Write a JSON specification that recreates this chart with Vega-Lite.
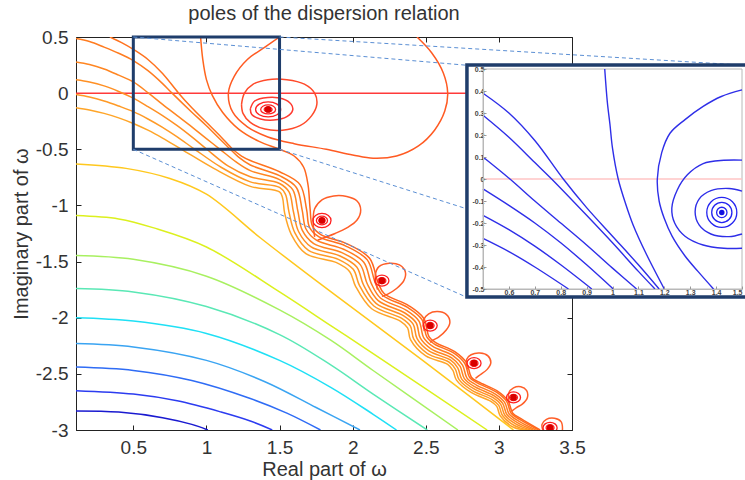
{
"$schema": "https://vega.github.io/schema/vega-lite/v6.json",
"width": 496, "height": 393,
"autosize": {"type": "none"},
"padding": {"left": 76, "top": 37, "right": 173, "bottom": 50},
"background": "white",
"config": {"view": {"stroke": "#222", "strokeWidth": 1}, "font": "Liberation Sans"},
"title": {"text": "poles of the dispersion relation", "fontSize": 20, "fontWeight": "normal", "color": "#333", "offset": 4, "anchor": "middle"},
"datasets": {
"main": [
{"g":"Z","x":0.108,"y":0},{"g":"Z","x":3.5,"y":0},
{"g":"b1","x":0.108,"y":-2.83},{"g":"b1","x":0.4,"y":-2.84},{"g":"b1","x":0.7,"y":-2.89},{"g":"b1","x":0.9,"y":-2.95},{"g":"b1","x":1.01,"y":-3.0},
{"g":"b2","x":0.108,"y":-2.65},{"g":"b2","x":0.5,"y":-2.68},{"g":"b2","x":0.8,"y":-2.74},{"g":"b2","x":1.1,"y":-2.84},{"g":"b2","x":1.3,"y":-2.92},{"g":"b2","x":1.45,"y":-3.0},
{"g":"b3","x":0.108,"y":-2.44},{"g":"b3","x":0.5,"y":-2.47},{"g":"b3","x":0.9,"y":-2.56},{"g":"b3","x":1.3,"y":-2.72},{"g":"b3","x":1.55,"y":-2.85},{"g":"b3","x":1.78,"y":-3.0},
{"g":"b4","x":0.108,"y":-2.23},{"g":"b4","x":0.5,"y":-2.26},{"g":"b4","x":1.0,"y":-2.38},{"g":"b4","x":1.4,"y":-2.57},{"g":"b4","x":1.75,"y":-2.8},{"g":"b4","x":2.05,"y":-3.0},
{"g":"c5","x":0.108,"y":-2.0},{"g":"c5","x":0.5,"y":-2.03},{"g":"c5","x":1.0,"y":-2.14},{"g":"c5","x":1.5,"y":-2.38},{"g":"c5","x":1.85,"y":-2.62},{"g":"c5","x":2.14,"y":-2.86},{"g":"c5","x":2.3,"y":-3.0},
{"g":"g6","x":0.108,"y":-1.74},{"g":"g6","x":0.5,"y":-1.77},{"g":"g6","x":1.0,"y":-1.9},{"g":"g6","x":1.5,"y":-2.15},{"g":"g6","x":1.85,"y":-2.42},{"g":"g6","x":2.14,"y":-2.68},{"g":"g6","x":2.51,"y":-3.0},
{"g":"g7","x":0.108,"y":-1.446},{"g":"g7","x":0.5,"y":-1.48},{"g":"g7","x":1.0,"y":-1.63},{"g":"g7","x":1.5,"y":-1.93},{"g":"g7","x":1.85,"y":-2.2},{"g":"g7","x":2.14,"y":-2.47},{"g":"g7","x":2.72,"y":-3.0},
{"g":"y8","x":0.108,"y":-1.09},{"g":"y8","x":0.4,"y":-1.12},{"g":"y8","x":0.64,"y":-1.2},{"g":"y8","x":1.0,"y":-1.37},{"g":"y8","x":1.5,"y":-1.77},{"g":"y8","x":1.85,"y":-2.07},{"g":"y8","x":2.14,"y":-2.32},{"g":"y8","x":2.92,"y":-3.0},
{"g":"y9","x":0.108,"y":-0.63},{"g":"y9","x":0.45,"y":-0.67},{"g":"y9","x":0.75,"y":-0.76},{"g":"y9","x":1.0,"y":-0.9},{"g":"y9","x":1.37,"y":-1.29},{"g":"y9","x":1.75,"y":-1.67},{"g":"y9","x":2.12,"y":-2.03},{"g":"y9","x":2.6,"y":-2.5},{"g":"y9","x":3.1,"y":-3.0},
{"g":"M1","x":0.34,"y":0.5},{"g":"M1","x":0.42,"y":0.45},{"g":"M1","x":0.5,"y":0.39},{"g":"M1","x":0.6,"y":0.3},{"g":"M1","x":0.7,"y":0.175},{"g":"M1","x":0.81,"y":0.0},{"g":"M1","x":0.9,"y":-0.13},{"g":"M1","x":1.0,"y":-0.26},{"g":"M1","x":1.1,"y":-0.39},{"g":"M1","x":1.18,"y":-0.5},{"g":"M1","x":1.24,"y":-0.56},{"g":"M1","x":1.3,"y":-0.6},{"g":"M1","x":1.5,"y":-0.7},{"g":"M1","x":1.64,"y":-0.815},{"g":"M1","x":1.685,"y":-1.0375},{"g":"M1","x":1.705,"y":-1.195},{"g":"M1","x":1.77,"y":-1.28},{"g":"M1","x":1.95,"y":-1.36},{"g":"M1","x":2.1,"y":-1.485},{"g":"M1","x":2.155,"y":-1.69},{"g":"M1","x":2.205,"y":-1.8},{"g":"M1","x":2.378,"y":-1.91},{"g":"M1","x":2.473,"y":-2.015},{"g":"M1","x":2.508,"y":-2.173},{"g":"M1","x":2.56,"y":-2.235},{"g":"M1","x":2.695,"y":-2.318},{"g":"M1","x":2.768,"y":-2.41},{"g":"M1","x":2.8,"y":-2.533},{"g":"M1","x":2.855,"y":-2.583},{"g":"M1","x":2.983,"y":-2.663},{"g":"M1","x":3.053,"y":-2.745},{"g":"M1","x":3.085,"y":-2.853},{"g":"M1","x":3.145,"y":-2.908},{"g":"M1","x":3.27,"y":-3.0},
{"g":"M2","x":0.108,"y":0.486},{"g":"M2","x":0.2,"y":0.46},{"g":"M2","x":0.3,"y":0.41},{"g":"M2","x":0.4,"y":0.355},{"g":"M2","x":0.5,"y":0.29},{"g":"M2","x":0.6,"y":0.2},{"g":"M2","x":0.7,"y":0.085},{"g":"M2","x":0.765,"y":0.0},{"g":"M2","x":0.9,"y":-0.17},{"g":"M2","x":1.0,"y":-0.29},{"g":"M2","x":1.1,"y":-0.42},{"g":"M2","x":1.164,"y":-0.5},{"g":"M2","x":1.22,"y":-0.57},{"g":"M2","x":1.3,"y":-0.64},{"g":"M2","x":1.5,"y":-0.735},{"g":"M2","x":1.615,"y":-0.84},{"g":"M2","x":1.655,"y":-1.044},{"g":"M2","x":1.68,"y":-1.2075},{"g":"M2","x":1.752,"y":-1.31},{"g":"M2","x":1.938,"y":-1.39},{"g":"M2","x":2.076,"y":-1.506},{"g":"M2","x":2.128,"y":-1.696},{"g":"M2","x":2.19,"y":-1.824},{"g":"M2","x":2.3675,"y":-1.934},{"g":"M2","x":2.4535,"y":-2.03},{"g":"M2","x":2.4855,"y":-2.1775},{"g":"M2","x":2.548,"y":-2.256},{"g":"M2","x":2.686,"y":-2.3375},{"g":"M2","x":2.7515,"y":-2.422},{"g":"M2","x":2.782,"y":-2.5375},{"g":"M2","x":2.846,"y":-2.5995},{"g":"M2","x":2.9755,"y":-2.6795},{"g":"M2","x":3.0395,"y":-2.754},{"g":"M2","x":3.07,"y":-2.8575},{"g":"M2","x":3.136,"y":-2.9215},{"g":"M2","x":3.252,"y":-3.0},
{"g":"M3","x":0.108,"y":0.277},{"g":"M3","x":0.2,"y":0.255},{"g":"M3","x":0.3,"y":0.215},{"g":"M3","x":0.4,"y":0.16},{"g":"M3","x":0.5,"y":0.1},{"g":"M3","x":0.604,"y":0.0},{"g":"M3","x":0.7,"y":-0.1},{"g":"M3","x":0.8,"y":-0.2},{"g":"M3","x":0.9,"y":-0.3},{"g":"M3","x":1.0,"y":-0.405},{"g":"M3","x":1.093,"y":-0.5},{"g":"M3","x":1.2,"y":-0.61},{"g":"M3","x":1.3,"y":-0.69},{"g":"M3","x":1.5,"y":-0.77},{"g":"M3","x":1.59,"y":-0.86},{"g":"M3","x":1.625,"y":-1.05},{"g":"M3","x":1.655,"y":-1.22},{"g":"M3","x":1.734,"y":-1.34},{"g":"M3","x":1.926,"y":-1.42},{"g":"M3","x":2.052,"y":-1.527},{"g":"M3","x":2.101,"y":-1.702},{"g":"M3","x":2.175,"y":-1.848},{"g":"M3","x":2.357,"y":-1.958},{"g":"M3","x":2.434,"y":-2.045},{"g":"M3","x":2.463,"y":-2.182},{"g":"M3","x":2.536,"y":-2.277},{"g":"M3","x":2.677,"y":-2.357},{"g":"M3","x":2.735,"y":-2.434},{"g":"M3","x":2.764,"y":-2.542},{"g":"M3","x":2.837,"y":-2.616},{"g":"M3","x":2.968,"y":-2.696},{"g":"M3","x":3.026,"y":-2.763},{"g":"M3","x":3.055,"y":-2.862},{"g":"M3","x":3.127,"y":-2.935},{"g":"M3","x":3.234,"y":-3.0},
{"g":"M4","x":0.108,"y":0.12},{"g":"M4","x":0.2,"y":0.1},{"g":"M4","x":0.3,"y":0.065},{"g":"M4","x":0.4,"y":0.015},{"g":"M4","x":0.5,"y":-0.045},{"g":"M4","x":0.6,"y":-0.12},{"g":"M4","x":0.7,"y":-0.2},{"g":"M4","x":0.8,"y":-0.29},{"g":"M4","x":0.9,"y":-0.39},{"g":"M4","x":1.003,"y":-0.5},{"g":"M4","x":1.15,"y":-0.65},{"g":"M4","x":1.3,"y":-0.745},{"g":"M4","x":1.5,"y":-0.805},{"g":"M4","x":1.565,"y":-0.88},{"g":"M4","x":1.595,"y":-1.056},{"g":"M4","x":1.63,"y":-1.2325},{"g":"M4","x":1.716,"y":-1.37},{"g":"M4","x":1.914,"y":-1.45},{"g":"M4","x":2.028,"y":-1.548},{"g":"M4","x":2.074,"y":-1.708},{"g":"M4","x":2.16,"y":-1.872},{"g":"M4","x":2.3465,"y":-1.982},{"g":"M4","x":2.4145,"y":-2.06},{"g":"M4","x":2.4405,"y":-2.1865},{"g":"M4","x":2.524,"y":-2.298},{"g":"M4","x":2.668,"y":-2.3765},{"g":"M4","x":2.7185,"y":-2.446},{"g":"M4","x":2.746,"y":-2.5465},{"g":"M4","x":2.828,"y":-2.6325},{"g":"M4","x":2.9605,"y":-2.7125},{"g":"M4","x":3.0125,"y":-2.772},{"g":"M4","x":3.04,"y":-2.8665},{"g":"M4","x":3.118,"y":-2.9485},{"g":"M4","x":3.216,"y":-3.0},
{"g":"M5","x":0.108,"y":-0.013},{"g":"M5","x":0.2,"y":-0.035},{"g":"M5","x":0.3,"y":-0.07},{"g":"M5","x":0.4,"y":-0.115},{"g":"M5","x":0.5,"y":-0.165},{"g":"M5","x":0.6,"y":-0.23},{"g":"M5","x":0.7,"y":-0.305},{"g":"M5","x":0.8,"y":-0.39},{"g":"M5","x":0.92,"y":-0.5},{"g":"M5","x":1.1,"y":-0.66},{"g":"M5","x":1.3,"y":-0.79},{"g":"M5","x":1.5,"y":-0.84},{"g":"M5","x":1.54,"y":-0.9},{"g":"M5","x":1.565,"y":-1.0625},{"g":"M5","x":1.605,"y":-1.245},{"g":"M5","x":1.698,"y":-1.4},{"g":"M5","x":1.902,"y":-1.48},{"g":"M5","x":2.004,"y":-1.569},{"g":"M5","x":2.047,"y":-1.714},{"g":"M5","x":2.145,"y":-1.896},{"g":"M5","x":2.336,"y":-2.006},{"g":"M5","x":2.395,"y":-2.075},{"g":"M5","x":2.418,"y":-2.191},{"g":"M5","x":2.512,"y":-2.319},{"g":"M5","x":2.659,"y":-2.396},{"g":"M5","x":2.702,"y":-2.458},{"g":"M5","x":2.728,"y":-2.551},{"g":"M5","x":2.819,"y":-2.649},{"g":"M5","x":2.953,"y":-2.729},{"g":"M5","x":2.999,"y":-2.781},{"g":"M5","x":3.025,"y":-2.871},{"g":"M5","x":3.109,"y":-2.962},{"g":"M5","x":3.198,"y":-3.0},
{"g":"M6","x":0.108,"y":-0.13},{"g":"M6","x":0.2,"y":-0.15},{"g":"M6","x":0.3,"y":-0.18},{"g":"M6","x":0.4,"y":-0.22},{"g":"M6","x":0.5,"y":-0.27},{"g":"M6","x":0.6,"y":-0.33},{"g":"M6","x":0.7,"y":-0.4},{"g":"M6","x":0.83,"y":-0.5},{"g":"M6","x":1.05,"y":-0.67},{"g":"M6","x":1.3,"y":-0.83},{"g":"M6","x":1.5,"y":-0.88},{"g":"M6","x":1.52,"y":-0.93},{"g":"M6","x":1.535,"y":-1.069},{"g":"M6","x":1.58,"y":-1.2575},{"g":"M6","x":1.68,"y":-1.43},{"g":"M6","x":1.89,"y":-1.51},{"g":"M6","x":1.98,"y":-1.59},{"g":"M6","x":2.02,"y":-1.72},{"g":"M6","x":2.13,"y":-1.92},{"g":"M6","x":2.3255,"y":-2.03},{"g":"M6","x":2.3755,"y":-2.09},{"g":"M6","x":2.3955,"y":-2.1955},{"g":"M6","x":2.5,"y":-2.34},{"g":"M6","x":2.65,"y":-2.4155},{"g":"M6","x":2.6855,"y":-2.47},{"g":"M6","x":2.71,"y":-2.5555},{"g":"M6","x":2.81,"y":-2.6655},{"g":"M6","x":2.9455,"y":-2.7455},{"g":"M6","x":2.9855,"y":-2.79},{"g":"M6","x":3.01,"y":-2.8755},{"g":"M6","x":3.1,"y":-2.9755},{"g":"M6","x":3.18,"y":-3.0},
{"g":"D","x":0.96,"y":0.5},{"g":"D","x":0.975,"y":0.3},{"g":"D","x":1.0,"y":0.12},{"g":"D","x":1.04,"y":-0.02},{"g":"D","x":1.11,"y":-0.17},{"g":"D","x":1.22,"y":-0.32},{"g":"D","x":1.36,"y":-0.43},{"g":"D","x":1.5,"y":-0.5},{"g":"D","x":1.6,"y":-0.56},{"g":"D","x":1.665,"y":-0.66},{"g":"D","x":1.695,"y":-0.82},{"g":"D","x":1.709,"y":-1.03},{"g":"D","x":1.725,"y":-1.185},{"g":"D","x":1.782,"y":-1.26},{"g":"D","x":1.958,"y":-1.34},{"g":"D","x":2.116,"y":-1.471},{"g":"D","x":2.173,"y":-1.686},{"g":"D","x":2.215,"y":-1.784},{"g":"D","x":2.385,"y":-1.894},{"g":"D","x":2.486,"y":-2.005},{"g":"D","x":2.523,"y":-2.17},{"g":"D","x":2.568,"y":-2.221},{"g":"D","x":2.701,"y":-2.305},{"g":"D","x":2.779,"y":-2.402},{"g":"D","x":2.812,"y":-2.53},{"g":"D","x":2.861,"y":-2.572},{"g":"D","x":2.988,"y":-2.652},{"g":"D","x":3.062,"y":-2.739},{"g":"D","x":3.095,"y":-2.85},{"g":"D","x":3.151,"y":-2.899},{"g":"D","x":3.282,"y":-3.0},
{"g":"C","x":1.5,"y":0.5},{"g":"C","x":1.4,"y":0.41},{"g":"C","x":1.28,"y":0.3},{"g":"C","x":1.19,"y":0.15},{"g":"C","x":1.15,"y":0.0},{"g":"C","x":1.18,"y":-0.17},{"g":"C","x":1.28,"y":-0.3},{"g":"C","x":1.42,"y":-0.39},{"g":"C","x":1.6,"y":-0.45},{"g":"C","x":1.82,"y":-0.5},{"g":"C","x":2.0,"y":-0.55},{"g":"C","x":2.14,"y":-0.58},{"g":"C","x":2.3,"y":-0.56},{"g":"C","x":2.45,"y":-0.47},{"g":"C","x":2.56,"y":-0.33},{"g":"C","x":2.63,"y":-0.16},{"g":"C","x":2.65,"y":0.0},{"g":"C","x":2.62,"y":0.18},{"g":"C","x":2.54,"y":0.36},{"g":"C","x":2.44,"y":0.5},
{"g":"RB","x":1.24,"y":-0.1},{"g":"RB","x":1.26,"y":0.0},{"g":"RB","x":1.32,"y":0.08},{"g":"RB","x":1.42,"y":0.12},{"g":"RB","x":1.55,"y":0.12},{"g":"RB","x":1.67,"y":0.08},{"g":"RB","x":1.74,"y":0.0},{"g":"RB","x":1.755,"y":-0.1},{"g":"RB","x":1.72,"y":-0.2},{"g":"RB","x":1.64,"y":-0.29},{"g":"RB","x":1.52,"y":-0.33},{"g":"RB","x":1.4,"y":-0.32},{"g":"RB","x":1.3,"y":-0.26},{"g":"RB","x":1.25,"y":-0.18},{"g":"RB","x":1.24,"y":-0.1},
{"g":"RA","x":1.3,"y":-0.14},{"g":"RA","x":1.33,"y":-0.07},{"g":"RA","x":1.42,"y":-0.038},{"g":"RA","x":1.52,"y":-0.05},{"g":"RA","x":1.58,"y":-0.1},{"g":"RA","x":1.59,"y":-0.15},{"g":"RA","x":1.55,"y":-0.21},{"g":"RA","x":1.46,"y":-0.24},{"g":"RA","x":1.37,"y":-0.23},{"g":"RA","x":1.31,"y":-0.19},{"g":"RA","x":1.3,"y":-0.14},
{"g":"t2","x":1.74,"y":-1.28},{"g":"t2","x":1.73,"y":-1.15},{"g":"t2","x":1.74,"y":-1.03},{"g":"t2","x":1.79,"y":-0.95},{"g":"t2","x":1.87,"y":-0.915},{"g":"t2","x":1.96,"y":-0.92},{"g":"t2","x":2.03,"y":-0.96},{"g":"t2","x":2.055,"y":-1.04},{"g":"t2","x":2.03,"y":-1.13},{"g":"t2","x":1.96,"y":-1.2},{"g":"t2","x":1.88,"y":-1.25},{"g":"t2","x":1.8,"y":-1.29},{"g":"t2","x":1.76,"y":-1.31},
{"g":"t3","x":2.17,"y":-1.75},{"g":"t3","x":2.155,"y":-1.62},{"g":"t3","x":2.18,"y":-1.545},{"g":"t3","x":2.25,"y":-1.515},{"g":"t3","x":2.32,"y":-1.53},{"g":"t3","x":2.36,"y":-1.59},{"g":"t3","x":2.35,"y":-1.67},{"g":"t3","x":2.3,"y":-1.74},{"g":"t3","x":2.24,"y":-1.79},{"g":"t3","x":2.2,"y":-1.81},
{"g":"t4","x":2.49,"y":-2.12},{"g":"t4","x":2.485,"y":-2.02},{"g":"t4","x":2.52,"y":-1.965},{"g":"t4","x":2.58,"y":-1.945},{"g":"t4","x":2.64,"y":-1.97},{"g":"t4","x":2.665,"y":-2.04},{"g":"t4","x":2.64,"y":-2.11},{"g":"t4","x":2.59,"y":-2.17},{"g":"t4","x":2.55,"y":-2.2},{"g":"t4","x":2.53,"y":-2.22},
{"g":"t5","x":2.785,"y":-2.46},{"g":"t5","x":2.78,"y":-2.37},{"g":"t5","x":2.81,"y":-2.33},{"g":"t5","x":2.87,"y":-2.315},{"g":"t5","x":2.925,"y":-2.34},{"g":"t5","x":2.945,"y":-2.4},{"g":"t5","x":2.92,"y":-2.46},{"g":"t5","x":2.87,"y":-2.51},{"g":"t5","x":2.84,"y":-2.54},
{"g":"t6","x":3.07,"y":-2.76},{"g":"t6","x":3.068,"y":-2.67},{"g":"t6","x":3.1,"y":-2.625},{"g":"t6","x":3.15,"y":-2.615},{"g":"t6","x":3.19,"y":-2.65},{"g":"t6","x":3.195,"y":-2.71},{"g":"t6","x":3.16,"y":-2.77},{"g":"t6","x":3.12,"y":-2.8},{"g":"t6","x":3.09,"y":-2.83},
{"g":"t7","x":3.3,"y":-3.0},{"g":"t7","x":3.295,"y":-2.95},{"g":"t7","x":3.325,"y":-2.905},{"g":"t7","x":3.38,"y":-2.895},{"g":"t7","x":3.425,"y":-2.925},{"g":"t7","x":3.435,"y":-2.99},{"g":"t7","x":3.43,"y":-3.02}
],
"rings": [
{"x":1.422,"y":-0.145,"r":0.086,"sh":"e6"},{"x":1.422,"y":-0.145,"r":0.051,"sh":"e6"},{"x":1.422,"y":-0.145,"r":0.027,"sh":"e6"},
{"x":1.79,"y":-1.134,"r":0.062,"sh":"e8"},{"x":1.79,"y":-1.134,"r":0.038,"sh":"e8"},{"x":1.79,"y":-1.134,"r":0.021,"sh":"e8"},
{"x":2.2,"y":-1.67,"r":0.048,"sh":"e8"},{"x":2.2,"y":-1.67,"r":0.027,"sh":"e8"},
{"x":2.53,"y":-2.07,"r":0.048,"sh":"e8"},{"x":2.53,"y":-2.07,"r":0.027,"sh":"e8"},
{"x":2.83,"y":-2.405,"r":0.048,"sh":"e8"},{"x":2.83,"y":-2.405,"r":0.027,"sh":"e8"},
{"x":3.1,"y":-2.71,"r":0.048,"sh":"e8"},{"x":3.1,"y":-2.71,"r":0.027,"sh":"e8"},
{"x":3.35,"y":-2.98,"r":0.048,"sh":"e8"},{"x":3.35,"y":-2.98,"r":0.027,"sh":"e8"}
],
"poles": [
{"x":1.422,"y":-0.145},{"x":1.79,"y":-1.134},{"x":2.2,"y":-1.67},{"x":2.53,"y":-2.07},{"x":2.83,"y":-2.405},{"x":3.1,"y":-2.71},{"x":3.35,"y":-2.98}
],
"conn": [
{"g":"A","x":0.5,"y":0.5},{"g":"A","x":2.784,"y":0.248},
{"g":"B","x":1.5,"y":0.5},{"g":"B","x":4.687,"y":0.248},
{"g":"E","x":0.5,"y":-0.5},{"g":"E","x":2.784,"y":-1.82},
{"g":"F","x":1.5,"y":-0.5},{"g":"F","x":4.687,"y":-1.82}
],
"ins": [
{"g":"IZ","x":0.5,"y":0},{"g":"IZ","x":1.5,"y":0},
{"g":"I1","x":0.5,"y":0.39},{"g":"I1","x":0.6,"y":0.3},{"g":"I1","x":0.7,"y":0.175},{"g":"I1","x":0.81,"y":0.0},{"g":"I1","x":0.9,"y":-0.13},{"g":"I1","x":1.0,"y":-0.26},{"g":"I1","x":1.1,"y":-0.39},{"g":"I1","x":1.18,"y":-0.5},
{"g":"I2","x":0.5,"y":0.29},{"g":"I2","x":0.6,"y":0.19},{"g":"I2","x":0.7,"y":0.075},{"g":"I2","x":0.765,"y":0.0},{"g":"I2","x":0.9,"y":-0.165},{"g":"I2","x":1.0,"y":-0.29},{"g":"I2","x":1.1,"y":-0.42},{"g":"I2","x":1.164,"y":-0.5},
{"g":"I3","x":0.5,"y":0.1},{"g":"I3","x":0.604,"y":0.0},{"g":"I3","x":0.7,"y":-0.1},{"g":"I3","x":0.8,"y":-0.2},{"g":"I3","x":0.9,"y":-0.3},{"g":"I3","x":1.0,"y":-0.405},{"g":"I3","x":1.093,"y":-0.5},
{"g":"I4","x":0.5,"y":-0.045},{"g":"I4","x":0.6,"y":-0.12},{"g":"I4","x":0.7,"y":-0.2},{"g":"I4","x":0.8,"y":-0.29},{"g":"I4","x":0.9,"y":-0.39},{"g":"I4","x":1.003,"y":-0.5},
{"g":"I5","x":0.5,"y":-0.165},{"g":"I5","x":0.6,"y":-0.23},{"g":"I5","x":0.7,"y":-0.305},{"g":"I5","x":0.8,"y":-0.39},{"g":"I5","x":0.92,"y":-0.5},
{"g":"I6","x":0.5,"y":-0.27},{"g":"I6","x":0.6,"y":-0.33},{"g":"I6","x":0.7,"y":-0.4},{"g":"I6","x":0.83,"y":-0.5},
{"g":"ID","x":0.97,"y":0.5},{"g":"ID","x":0.98,"y":0.35},{"g":"ID","x":0.99,"y":0.25},{"g":"ID","x":1.0,"y":0.14},{"g":"ID","x":1.022,"y":0.0},{"g":"ID","x":1.05,"y":-0.11},{"g":"ID","x":1.08,"y":-0.21},{"g":"ID","x":1.13,"y":-0.34},{"g":"ID","x":1.2,"y":-0.5},
{"g":"IC","x":1.5,"y":0.405},{"g":"IC","x":1.42,"y":0.375},{"g":"IC","x":1.35,"y":0.33},{"g":"IC","x":1.28,"y":0.27},{"g":"IC","x":1.222,"y":0.208},{"g":"IC","x":1.19,"y":0.12},{"g":"IC","x":1.173,"y":0.0},{"g":"IC","x":1.18,"y":-0.1},{"g":"IC","x":1.2,"y":-0.18},{"g":"IC","x":1.23,"y":-0.26},{"g":"IC","x":1.28,"y":-0.35},{"g":"IC","x":1.33,"y":-0.42},{"g":"IC","x":1.39,"y":-0.5},
{"g":"IB","x":1.5,"y":0.086},{"g":"IB","x":1.43,"y":0.085},{"g":"IB","x":1.35,"y":0.07},{"g":"IB","x":1.29,"y":0.02},{"g":"IB","x":1.25,"y":-0.05},{"g":"IB","x":1.229,"y":-0.133},{"g":"IB","x":1.24,"y":-0.2},{"g":"IB","x":1.28,"y":-0.26},{"g":"IB","x":1.35,"y":-0.3},{"g":"IB","x":1.43,"y":-0.315},{"g":"IB","x":1.5,"y":-0.315},
{"g":"IA","x":1.5,"y":-0.055},{"g":"IA","x":1.45,"y":-0.043},{"g":"IA","x":1.38,"y":-0.053},{"g":"IA","x":1.335,"y":-0.09},{"g":"IA","x":1.319,"y":-0.149},{"g":"IA","x":1.335,"y":-0.21},{"g":"IA","x":1.38,"y":-0.25},{"g":"IA","x":1.45,"y":-0.262},{"g":"IA","x":1.5,"y":-0.25}
],
"irings": [
{"x":1.422,"y":-0.152,"r":0.058},{"x":1.422,"y":-0.152,"r":0.039},{"x":1.422,"y":-0.152,"r":0.02}
],
"ipole": [{"x":1.422,"y":-0.152}]
},
"layer": [
{
"layer": [
{"data": {"name": "main"},
 "mark": {"type": "line", "clip": true, "strokeWidth": 1.5, "interpolate": "catmull-rom", "order": false},
 "encoding": {
  "x": {"field": "x", "type": "quantitative", "scale": {"domain": [0.108, 3.5], "nice": false, "zero": false},
        "axis": {"orient": "bottom", "values": [0.5,1,1.5,2,2.5,3,3.5], "labelExpr": "'' + datum.value", "title": "Real part of ω", "titleFontSize": 20, "titleFontWeight": "normal", "titleColor": "#333", "titlePadding": 2, "labelFontSize": 19, "labelColor": "#333", "labelPadding": 13, "labelFlush": false, "labelOverlap": false, "tickSize": -5, "tickColor": "#222", "domainColor": "#222", "grid": false}},
  "y": {"field": "y", "type": "quantitative", "scale": {"domain": [-3, 0.5], "nice": false, "zero": false},
        "axis": {"orient": "left", "values": [-3,-2.5,-2,-1.5,-1,-0.5,0,0.5], "labelExpr": "'' + datum.value", "title": "Imaginary part of ω", "titleFontSize": 20, "titleFontWeight": "normal", "titleColor": "#333", "titlePadding": 4, "labelFontSize": 19, "labelColor": "#333", "labelPadding": 13, "labelFlush": false, "labelOverlap": false, "tickSize": -5, "tickColor": "#222", "domainColor": "#222", "grid": false}},
  "color": {"field": "g", "type": "nominal", "legend": null,
   "scale": {"domain": ["Z","b1","b2","b3","b4","c5","g6","g7","y8","y9","M1","M2","M3","M4","M5","M6","D","C","t2","t3","t4","t5","t6","t7","RB","RA"],
             "range": ["#ff3a3a","#1a1ad0","#2c3cf0","#2f6cf5","#3aa4f2","#1fe0f5","#5ae8b5","#a8f060","#dcf01e","#ffc81e","#ff721e","#ff7c20","#ff8622","#ff9024","#ff9a26","#ffa528","#ff661e","#ff5a22","#ff5e28","#ff5e28","#ff5e28","#ff5e28","#ff5e28","#ff5e28","#ff4a2a","#ff3a30"]}}
 }},
{"data": {"name": "rings"},
 "mark": {"type": "point", "clip": true, "filled": false, "strokeWidth": 1.3, "color": "#ff2020", "opacity": 1},
 "encoding": {
  "x": {"field": "x", "type": "quantitative", "axis": null},
  "y": {"field": "y", "type": "quantitative", "axis": null},
  "size": {"field": "r", "type": "quantitative", "legend": null, "scale": {"type": "pow", "exponent": 2, "domain": [0, 0.1], "range": [0, 854]}},
  "shape": {"field": "sh", "type": "nominal", "legend": null, "scale": {"domain": ["e6","e8"], "range": ["M-1,0C-1,-0.331,-0.552,-0.6,0,-0.6C0.552,-0.6,1,-0.331,1,0C1,0.331,0.552,0.6,0,0.6C-0.552,0.6,-1,0.331,-1,0Z", "M-1,0C-1,-0.431,-0.552,-0.78,0,-0.78C0.552,-0.78,1,-0.431,1,0C1,0.431,0.552,0.78,0,0.78C-0.552,0.78,-1,0.431,-1,0Z"]}}
 }},
{"data": {"name": "poles"},
 "mark": {"type": "point", "clip": true, "filled": true, "shape": "circle", "size": 45, "color": "#d80000", "opacity": 1},
 "encoding": {
  "x": {"field": "x", "type": "quantitative", "axis": null},
  "y": {"field": "y", "type": "quantitative", "axis": null}
 }},
{"data": {"values": [{"x1": 0.5, "x2": 1.5, "y1": -0.5, "y2": 0.5}]},
 "mark": {"type": "rect", "fill": null, "fillOpacity": 0, "stroke": "#1f3d6b", "strokeWidth": 3},
 "encoding": {
  "x": {"field": "x1", "type": "quantitative", "axis": {"orient": "top", "values": [0.5,1,1.5,2,2.5,3,3.5], "labels": false, "domain": false, "title": null, "tickSize": -5, "tickColor": "#222", "grid": false}},
  "x2": {"field": "x2"},
  "y": {"field": "y1", "type": "quantitative", "axis": {"orient": "right", "values": [-3,-2.5,-2,-1.5,-1,-0.5,0,0.5], "labels": false, "domain": false, "title": null, "tickSize": -5, "tickColor": "#222", "grid": false}},
  "y2": {"field": "y2"}
 }},
{"data": {"name": "conn"},
 "mark": {"type": "line", "clip": false, "strokeWidth": 1, "strokeDash": [4, 3], "color": "#5b8fd4", "order": false},
 "encoding": {
  "x": {"field": "x", "type": "quantitative", "axis": null},
  "y": {"field": "y", "type": "quantitative", "axis": null},
  "detail": {"field": "g", "type": "nominal"}
 }}
],
"resolve": {"axis": {"x": "independent", "y": "independent"}}
},
{
"layer": [
{"data": {"values": [{"x1": 0.438, "x2": 1.535, "y1": -0.536, "y2": 0.518}]},
 "mark": {"type": "rect", "fill": "white", "stroke": "#1f3d6b", "strokeWidth": 3.5, "clip": false},
 "encoding": {
  "x": {"field": "x1", "type": "quantitative", "scale": {"domain": [0.5, 1.5], "range": [407, 666], "nice": false, "zero": false}, "axis": null},
  "x2": {"field": "x2"},
  "y": {"field": "y1", "type": "quantitative", "scale": {"domain": [-0.5, 0.5], "range": [252, 32], "nice": false, "zero": false}, "axis": null},
  "y2": {"field": "y2"}
 }},
{"data": {"values": [{"x1": 0.5, "x2": 1.5, "y1": -0.5, "y2": 0.5}]},
 "mark": {"type": "rect", "fill": null, "fillOpacity": 0, "stroke": "#b8b8b8", "strokeWidth": 1, "clip": false},
 "encoding": {
  "x": {"field": "x1", "type": "quantitative", "axis": null},
  "x2": {"field": "x2"},
  "y": {"field": "y1", "type": "quantitative", "axis": null},
  "y2": {"field": "y2"}
 }},
{"data": {"name": "ins"},
 "mark": {"type": "line", "clip": false, "strokeWidth": 1.4, "interpolate": "catmull-rom", "order": false},
 "encoding": {
  "x": {"field": "x", "type": "quantitative",
        "axis": {"orient": "bottom", "offset": -141, "zindex": 1, "values": [0.6,0.7,0.8,0.9,1,1.1,1.2,1.3,1.4,1.5], "labelExpr": "'' + datum.value", "title": null, "labelFontSize": 7, "labelFontWeight": "bold", "labelColor": "#444", "labelPadding": 2, "labelFlush": true, "labelOverlap": false, "tickSize": -3, "tickColor": "#999", "domainColor": "#b8b8b8", "grid": false}},
  "y": {"field": "y", "type": "quantitative",
        "axis": {"orient": "left", "offset": -407, "zindex": 1, "values": [-0.5,-0.4,-0.3,-0.2,-0.1,0,0.1,0.2,0.3,0.4,0.5], "labelExpr": "'' + datum.value", "title": null, "labelFontSize": 7, "labelFontWeight": "bold", "labelColor": "#444", "labelPadding": 2, "labelFlush": false, "labelOverlap": false, "tickSize": -3, "tickColor": "#999", "domainColor": "#b8b8b8", "grid": false}},
  "color": {"field": "g", "type": "nominal", "legend": null,
   "scale": {"domain": ["IZ","I1","I2","I3","I4","I5","I6","ID","IC","IB","IA"],
             "range": ["#ffc4c4","#2e2ee8","#2e2ee8","#2e2ee8","#2e2ee8","#2e2ee8","#2e2ee8","#2e2ee8","#2e2ee8","#2e2ee8","#2e2ee8"]}}
 }},
{"data": {"name": "irings"},
 "mark": {"type": "point", "filled": false, "strokeWidth": 1.3, "color": "#2424f0", "opacity": 1, "shape": "circle"},
 "encoding": {
  "x": {"field": "x", "type": "quantitative", "axis": null},
  "y": {"field": "y", "type": "quantitative", "axis": null},
  "size": {"field": "r", "type": "quantitative", "legend": null, "scale": {"type": "pow", "exponent": 2, "domain": [0, 0.1], "range": [0, 2683]}}
 }},
{"data": {"name": "ipole"},
 "mark": {"type": "point", "filled": true, "shape": "circle", "size": 30, "color": "#1010e0", "opacity": 1},
 "encoding": {
  "x": {"field": "x", "type": "quantitative", "axis": null},
  "y": {"field": "y", "type": "quantitative", "axis": null}
 }}
],
"resolve": {"axis": {"x": "independent", "y": "independent"}}
}
],
"resolve": {"scale": {"x": "independent", "y": "independent", "color": "independent", "size": "independent", "shape": "independent"}, "axis": {"x": "independent", "y": "independent"}}
}
